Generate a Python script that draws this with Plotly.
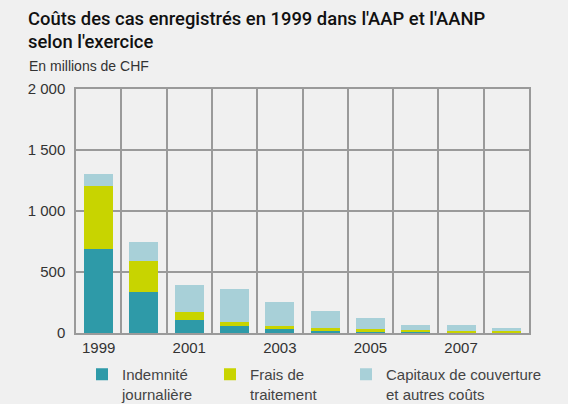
import plotly.graph_objects as go

years = [1999, 2000, 2001, 2002, 2003, 2004, 2005, 2006, 2007, 2008]
indemnite = [688, 337, 109, 60, 35, 20, 12, 11, 4, 3]
frais = [517, 253, 65, 32, 25, 25, 22, 15, 15, 15]
capitaux = [95, 155, 220, 270, 195, 137, 92, 42, 49, 26]

series_names = ["Indemnité<br>journalière", "Frais de<br>traitement", "Capitaux de couverture<br>et autres coûts"]
colors = ["#2e9aa8", "#c8d400", "#a8d0d8"]

y_tickvals = [0, 500, 1000, 1500, 2000]
y_ticktext = ["0", "500", "1 000", "1 500", "2 000"]
x_tickvals = [1999, 2001, 2003, 2005, 2007]

W, H = 568, 404
L, R, T, B = 76, 39, 89, 71
ph = H - T - B

def py(p):
    return (H - B - p) / ph

def px(p):
    return (p - L) / (W - L - R)

legend_ids = ["legend", "legend2", "legend3"]
legend_x = [82, 210, 346]

fig = go.Figure()
for name, vals, c, lid in zip(series_names, [indemnite, frais, capitaux], colors, legend_ids):
    fig.add_trace(go.Bar(x=years, y=vals, name=name, marker=dict(color=c, line=dict(width=0)),
                         width=0.64, legend=lid))

font = "Liberation Sans, Arial, sans-serif"
legend_common = dict(orientation="v", xanchor="left", y=py(358), yanchor="top",
                     font=dict(size=15, color="#444444"), itemwidth=30, valign="top",
                     bgcolor="rgba(0,0,0,0)", borderwidth=0)
fig.update_layout(
    width=W, height=H,
    barmode="stack",
    paper_bgcolor="#f0f0f0", plot_bgcolor="#f0f0f0",
    margin=dict(l=L, r=R, t=T, b=B, autoexpand=False),
    font=dict(family=font, size=15, color="#333333"),
    showlegend=True,
    legend=dict(x=px(legend_x[0]), **legend_common),
    legend2=dict(x=px(legend_x[1]), **legend_common),
    legend3=dict(x=px(legend_x[2]), **legend_common),
    xaxis=dict(range=[1998.5, 2008.5], tickvals=x_tickvals, ticktext=[str(v) for v in x_tickvals],
               showgrid=False, zeroline=False, showline=True, linecolor="#9a9a9a", linewidth=1.5,
               mirror=True, ticks="", tickfont=dict(size=15, color="#333333"),
               minor=dict(tickvals=[1999.5 + i for i in range(9)], showgrid=True,
                          gridcolor="#9a9a9a", gridwidth=1.5)),
    yaxis=dict(range=[0, 2000], tickvals=y_tickvals, ticktext=y_ticktext,
               showgrid=True, gridcolor="#9a9a9a", gridwidth=1.5, zeroline=False,
               showline=True, linecolor="#9a9a9a", linewidth=1.5, mirror=True,
               ticks="", ticklabelstandoff=6, tickfont=dict(size=15, color="#333333")),
    bargap=0.36,
)

title_font = dict(size=18.4, color="#111111", family="Roboto, Liberation Sans, sans-serif", weight=500)
fig.add_annotation(text="Coûts des cas enregistrés en 1999 dans l'AAP et l'AANP", xref="paper", yref="paper",
                   x=px(26), y=py(18), xanchor="left", yanchor="middle", showarrow=False,
                   font=title_font)
fig.add_annotation(text="selon l'exercice", xref="paper", yref="paper",
                   x=px(26), y=py(41), xanchor="left", yanchor="middle", showarrow=False,
                   font=title_font)
fig.add_annotation(text="En millions de CHF", xref="paper", yref="paper",
                   x=px(27), y=py(66), xanchor="left", yanchor="middle", showarrow=False,
                   font=dict(size=14, color="#333333", family=font))

fig.write_html("out.html", config={"displayModeBar": False},
               post_script="document.body.style.margin='0';document.body.style.overflow='hidden';")
